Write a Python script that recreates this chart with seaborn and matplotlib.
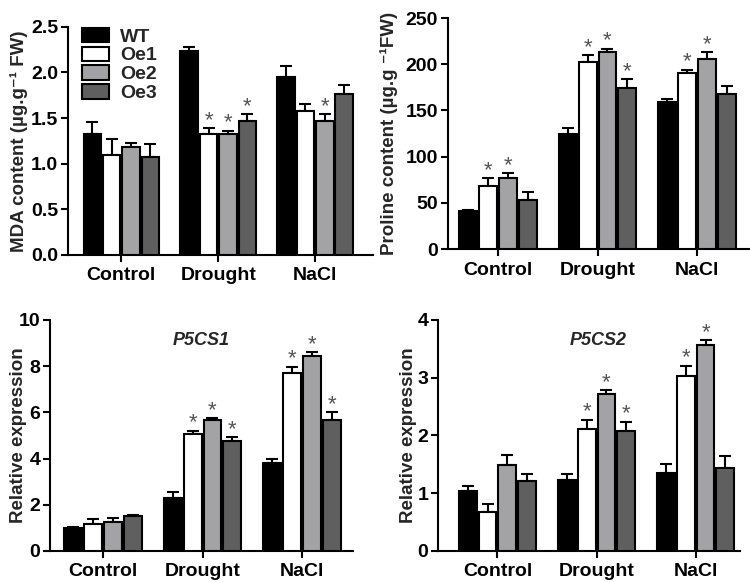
import seaborn as sns
import pandas as pd
import numpy as np
import matplotlib.pyplot as plt
from matplotlib.patches import Patch

treatments = ["Control", "Drought", "NaCl"]
lines = ["WT", "Oe1", "Oe2", "Oe3"]
colors = ["#000000", "#ffffff", "#a2a2a6", "#5f5f5f"]

# values per line, in treatment order (Control, Drought, NaCl)
mda = {"WT": [1.33, 2.23, 1.95], "Oe1": [1.10, 1.33, 1.58],
       "Oe2": [1.18, 1.32, 1.47], "Oe3": [1.07, 1.47, 1.76]}
mda_err = {"WT": [0.13, 0.05, 0.12], "Oe1": [0.17, 0.06, 0.07],
           "Oe2": [0.05, 0.04, 0.07], "Oe3": [0.14, 0.07, 0.10]}
mda_star = {"WT": [0, 0, 0], "Oe1": [0, 1, 0], "Oe2": [0, 1, 1], "Oe3": [0, 1, 0]}

pro = {"WT": [41, 124, 159], "Oe1": [68, 202, 190],
       "Oe2": [77, 213, 206], "Oe3": [53, 174, 168]}
pro_err = {"WT": [1, 7, 3], "Oe1": [9, 8, 4],
           "Oe2": [5, 4, 7], "Oe3": [9, 10, 8]}
pro_star = {"WT": [0, 0, 0], "Oe1": [1, 1, 1], "Oe2": [1, 1, 1], "Oe3": [0, 1, 0]}

p5cs1 = {"WT": [1.0, 2.3, 3.82], "Oe1": [1.18, 5.05, 7.7],
         "Oe2": [1.25, 5.65, 8.45], "Oe3": [1.53, 4.78, 5.65]}
p5cs1_err = {"WT": [0.05, 0.27, 0.15], "Oe1": [0.2, 0.15, 0.27],
             "Oe2": [0.17, 0.1, 0.15], "Oe3": [0.04, 0.15, 0.35]}
p5cs1_star = {"WT": [0, 0, 0], "Oe1": [0, 1, 1], "Oe2": [0, 1, 1], "Oe3": [0, 1, 1]}

p5cs2 = {"WT": [1.03, 1.23, 1.35], "Oe1": [0.67, 2.12, 3.03],
         "Oe2": [1.48, 2.72, 3.57], "Oe3": [1.21, 2.08, 1.43]}
p5cs2_err = {"WT": [0.1, 0.11, 0.16], "Oe1": [0.14, 0.15, 0.18],
             "Oe2": [0.18, 0.06, 0.08], "Oe3": [0.12, 0.16, 0.21]}
p5cs2_star = {"WT": [0, 0, 0], "Oe1": [0, 1, 1], "Oe2": [0, 1, 1], "Oe3": [0, 1, 0]}

sns.set_style("ticks")
plt.rcParams['font.family'] = ['Liberation Sans', 'DejaVu Sans']
plt.rcParams['font.weight'] = 'bold'
plt.rcParams['axes.labelweight'] = 'bold'

fig = plt.figure(figsize=(7.5, 5.82), dpi=100)

panels = [
    # vals, errs, stars, rect, ylim, yticks, fmt, ylabel, xlim, labelx, title
    (mda, mda_err, mda_star, [0.0907, 0.562, 0.407, 0.392], 2.5, np.arange(0, 2.51, 0.5), "{:.1f}",
     "MDA content (µg.g\u207b\u00b9 FW)", (-0.55, 2.6), -0.13, None),
    (pro, pro_err, pro_star, [0.597, 0.572, 0.402, 0.397], 250, np.arange(0, 251, 50), "{:.0f}",
     "Proline content (µg.g \u207b\u00b9FW)", (-0.5, 2.52), -0.165, None),
    (p5cs1, p5cs1_err, p5cs1_star, [0.0667, 0.0533, 0.404, 0.397], 10, np.arange(0, 11, 2), "{:.0f}",
     "Relative expression", (-0.53, 2.51), -0.075, "P5CS1"),
    (p5cs2, p5cs2_err, p5cs2_star, [0.584, 0.0533, 0.403, 0.397], 4, np.arange(0, 5, 1), "{:.0f}",
     "Relative expression", (-0.6, 2.45), -0.07, "P5CS2"),
]

for k, (vals, errs, stars, rect, ytop, yt, fmt, ylab, xl, lx, title) in enumerate(panels):
    ax = fig.add_axes(rect)
    rows = []
    for ln in lines:
        for j, t in enumerate(treatments):
            rows.append({"treatment": t, "line": ln, "value": vals[ln][j]})
    df = pd.DataFrame(rows)
    sns.barplot(data=df, x="treatment", y="value", hue="line", hue_order=lines,
                order=treatments, palette=colors, edgecolor="black", linewidth=1.5,
                gap=0.1, errorbar=None, ax=ax, legend=False, zorder=3)
    for i, ln in enumerate(lines):
        cont = ax.containers[i]
        xs = [b.get_x() + b.get_width() / 2 for b in cont]
        hs = [b.get_height() for b in cont]
        ax.errorbar(xs, hs, yerr=[np.zeros(3), errs[ln]], fmt="none", ecolor="black",
                    elinewidth=1.5, capsize=4.5, capthick=1.5, zorder=2)
        for j in range(3):
            if stars[ln][j]:
                ax.annotate("*", (xs[j], hs[j] + errs[ln][j]), xytext=(0, -2),
                            textcoords="offset points", ha="center", va="bottom",
                            fontsize=16, color="#555555", fontweight="normal")
    ax.set_ylim(0, ytop)
    ax.set_xlim(*xl)
    ax.set_yticks(yt)
    ax.set_yticklabels([fmt.format(v) for v in yt], fontsize=14, fontweight="bold")
    ax.set_xticks(range(3))
    ax.set_xticklabels(treatments, fontsize=14, fontweight="bold")
    ax.set_xlabel("")
    ax.set_ylabel(ylab, fontsize=13.5, fontweight="bold")
    ax.yaxis.set_label_coords(lx, 0.5)
    sns.despine(ax=ax)
    for s in ["left", "bottom"]:
        ax.spines[s].set_linewidth(1.5)
        ax.spines[s].set_color("black")
    ax.tick_params(axis="both", direction="out", length=5, width=1.5, colors="black", pad=2)
    ax.tick_params(axis="x", pad=4)
    if title:
        ax.text(0.5 if k == 2 else 0.53, 0.91, title, transform=ax.transAxes, ha="center",
                va="center", fontsize=13, fontweight="bold", fontstyle="italic")
    if k == 0:
        handles = [Patch(facecolor=c, edgecolor="black", linewidth=1.5) for c in colors]
        ax.legend(handles, lines, loc="upper left", bbox_to_anchor=(0.02, 1.03),
                  frameon=False, handlelength=1.4, handleheight=0.75,
                  handletextpad=0.55, labelspacing=0.05, borderaxespad=0,
                  prop={"weight": "bold", "size": 14})

fig.savefig("out.png", dpi=100)
